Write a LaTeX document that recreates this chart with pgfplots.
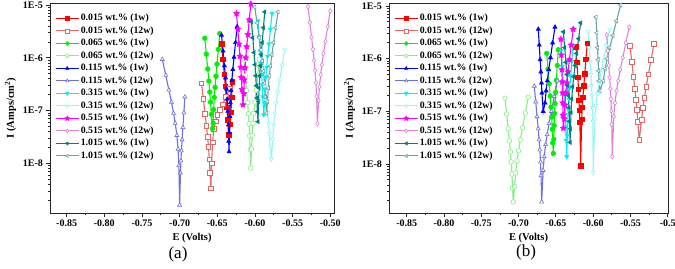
\documentclass[border=0pt]{standalone}
\usepackage{pgfplots}
\pgfplotsset{compat=1.18}
\usetikzlibrary{plotmarks}
\usepackage{fontspec}
\setmainfont{Liberation Serif}

\definecolor{cR1}{RGB}{255,0,0}
\definecolor{cR2}{RGB}{224,104,104}
\definecolor{cG1}{RGB}{0,240,0}
\definecolor{cG2}{RGB}{130,240,130}
\definecolor{cB1}{RGB}{0,0,255}
\definecolor{cB2}{RGB}{112,112,222}
\definecolor{cC1}{RGB}{0,240,240}
\definecolor{cC2}{RGB}{150,245,245}
\definecolor{cM1}{RGB}{255,0,255}
\definecolor{cM2}{RGB}{222,130,222}
\definecolor{cT1}{RGB}{0,128,128}
\definecolor{cT2}{RGB}{100,165,165}

\pgfdeclareplotmark{fstar}{%
 \pgfpathmoveto{\pgfpointpolar{90}{1.3\pgfplotmarksize}}%
 \pgfpathlineto{\pgfpointpolar{126}{0.65\pgfplotmarksize}}%
 \pgfpathlineto{\pgfpointpolar{162}{1.3\pgfplotmarksize}}%
 \pgfpathlineto{\pgfpointpolar{198}{0.65\pgfplotmarksize}}%
 \pgfpathlineto{\pgfpointpolar{234}{1.3\pgfplotmarksize}}%
 \pgfpathlineto{\pgfpointpolar{270}{0.65\pgfplotmarksize}}%
 \pgfpathlineto{\pgfpointpolar{306}{1.3\pgfplotmarksize}}%
 \pgfpathlineto{\pgfpointpolar{342}{0.65\pgfplotmarksize}}%
 \pgfpathlineto{\pgfpointpolar{18}{1.3\pgfplotmarksize}}%
 \pgfpathlineto{\pgfpointpolar{54}{0.65\pgfplotmarksize}}%
 \pgfpathclose\pgfusepathqfillstroke}

\pgfplotsset{
 tafel/.style={
   scale only axis, height=210pt,
   ytick={-8,-7,-6,-5}, yticklabels={1E-8,1E-7,1E-6,1E-5},
   minor ytick={-8.699,-8.523,-8.398,-8.301,-8.222,-8.155,-8.097,-8.046,
                -7.699,-7.523,-7.398,-7.301,-7.222,-7.155,-7.097,-7.046,
                -6.699,-6.523,-6.398,-6.301,-6.222,-6.155,-6.097,-6.046,
                -5.699,-5.523,-5.398,-5.301,-5.222,-5.155,-5.097,-5.046},
   xtick={-0.85,-0.80,-0.75,-0.70,-0.65,-0.60,-0.55,-0.50},
   minor xtick={-0.825,-0.775,-0.725,-0.675,-0.625,-0.575,-0.525},
   tick align=outside, tick pos=left,
   major tick length=3.5pt, minor tick length=2pt,
   every tick/.style={black!85, line width=0.8pt},
   axis line style={black!85, line width=0.9pt},
   tick label style={font=\bfseries\fontsize{10}{12}\selectfont},
   label style={font=\bfseries\fontsize{10.5}{12}\selectfont},
   xlabel={E (Volts)}, ylabel={I (Amps/cm\textsuperscript{2})},
   legend style={draw=none, fill=none, at={(0,1)}, anchor=north west,
     xshift=5pt, yshift=-9pt, inner sep=0pt, row sep=0pt,
     font=\bfseries\fontsize{9.8}{11}\selectfont,
     nodes={inner sep=1.5pt, text height=7pt, text depth=2.5pt}},
   legend cell align=left,
   legend image code/.code={\draw[mark repeat=2,mark phase=2,mark size=1.9pt] plot coordinates {(0pt,0pt)(11.5pt,0pt)(23pt,0pt)};},
   every axis plot/.append style={line width=1.1pt, mark size=2.3pt},
 },
 sR1/.style={color=cR1, mark=square*, mark options={solid, line width=0.6pt, fill=cR1}},
 sR2/.style={color=cR2, mark=square*, mark options={solid, line width=0.6pt, fill=white}},
 sG1/.style={color=cG1, mark=*, mark options={solid, line width=0.6pt, fill=cG1}},
 sG2/.style={color=cG2, mark=*, mark options={solid, line width=0.6pt, fill=white}},
 sB1/.style={color=cB1, mark=triangle*, mark options={solid, line width=0.6pt, fill=cB1}},
 sB2/.style={color=cB2, mark=triangle*, mark options={solid, line width=0.6pt, fill=white}},
 sC1/.style={color=cC1, mark=triangle*, mark options={solid, line width=0.6pt, fill=cC1, rotate=180}},
 sC2/.style={color=cC2, mark=triangle*, mark options={solid, line width=0.6pt, fill=white, rotate=180}},
 sM1/.style={color=cM1, mark=fstar, mark options={solid, line width=0.6pt, fill=cM1}},
 sM2/.style={color=cM2, mark=diamond*, mark options={solid, line width=0.6pt, fill=white}},
 sT1/.style={color=cT1, mark=triangle*, mark options={solid, line width=0.6pt, fill=cT1, rotate=90}},
 sT2/.style={color=cT2, mark=triangle*, mark options={solid, line width=0.6pt, fill=white, rotate=90}},
}

\begin{document}
\begin{tikzpicture}
\useasboundingbox (-50pt,-55pt) rectangle (625pt,213pt);

% ---------------- panel (a) ----------------
\begin{axis}[tafel, at={(0pt,0pt)}, width=284pt,
  xmin=-0.8721, xmax=-0.4951, ymin=-8.94, ymax=-4.962,
  xticklabels={-0.85,-0.80,-0.75,-0.70,-0.65,-0.60,-0.55,-0.50}]
\addplot[sR1] coordinates {(-0.6444,-5.73) (-0.6425,-6.03) (-0.6408,-6.31) (-0.6393,-6.54) (-0.6382,-6.75) (-0.6372,-6.94) (-0.6363,-7.17) (-0.6348,-7.46) (-0.6325,-7.26) (-0.6318,-7.03) (-0.6310,-6.75) (-0.6300,-6.45)};
\addlegendentry{0.015 wt.\% (1w)}
\addplot[sR2] coordinates {(-0.6710,-6.48) (-0.6685,-6.78) (-0.6663,-7.06) (-0.6644,-7.29) (-0.6629,-7.50) (-0.6617,-7.69) (-0.6606,-7.92) (-0.6597,-8.18) (-0.6586,-8.47) (-0.6575,-8.00) (-0.6563,-7.60) (-0.6546,-7.35) (-0.6523,-7.20) (-0.6498,-7.08) (-0.6468,-6.98) (-0.6430,-6.88) (-0.6384,-6.74) (-0.6334,-6.58)};
\addlegendentry{0.015 wt.\% (12w)}
\addplot[sG1] coordinates {(-0.6666,-5.63) (-0.6646,-5.93) (-0.6627,-6.21) (-0.6612,-6.44) (-0.6600,-6.65) (-0.6590,-6.84) (-0.6580,-7.07) (-0.6564,-7.34) (-0.6555,-7.24) (-0.6549,-6.98) (-0.6540,-6.75) (-0.6530,-6.56) (-0.6518,-6.35) (-0.6504,-6.12) (-0.6486,-5.84) (-0.6467,-5.54)};
\addlegendentry{0.065 wt.\% (1w)}
\addplot[sG2] coordinates {(-0.6145,-6.04) (-0.6127,-6.34) (-0.6111,-6.62) (-0.6098,-6.85) (-0.6087,-7.06) (-0.6078,-7.25) (-0.6070,-7.48) (-0.6064,-7.74) (-0.6056,-8.09) (-0.6046,-7.73) (-0.6037,-7.47) (-0.6027,-7.24) (-0.6015,-7.05) (-0.6001,-6.84) (-0.5984,-6.61) (-0.5963,-6.33) (-0.5940,-6.03)};
\addlegendentry{0.065 wt.\% (12w)}
\addplot[sB1] coordinates {(-0.6444,-5.57) (-0.6424,-5.87) (-0.6406,-6.15) (-0.6391,-6.38) (-0.6379,-6.59) (-0.6369,-6.78) (-0.6360,-7.01) (-0.6353,-7.27) (-0.6349,-7.58) (-0.6344,-7.78) (-0.6339,-7.42) (-0.6334,-7.11) (-0.6327,-6.85) (-0.6317,-6.62) (-0.6307,-6.43) (-0.6294,-6.22) (-0.6278,-5.99) (-0.6258,-5.71) (-0.6237,-5.41)};
\addlegendentry{0.115 wt.\% (1w)}
\addplot[sB2] coordinates {(-0.7230,-6.03) (-0.7184,-6.33) (-0.7143,-6.61) (-0.7108,-6.84) (-0.7081,-7.05) (-0.7058,-7.24) (-0.7037,-7.47) (-0.7021,-7.73) (-0.7010,-8.04) (-0.7000,-8.79) (-0.6989,-8.18) (-0.6983,-7.95) (-0.6976,-7.76) (-0.6967,-7.55) (-0.6957,-7.32) (-0.6944,-7.04) (-0.6930,-6.74)};
\addlegendentry{0.115 wt.\% (12w)}
\addplot[sC1] coordinates {(-0.5960,-5.30) (-0.5945,-5.60) (-0.5931,-5.88) (-0.5920,-6.11) (-0.5911,-6.32) (-0.5903,-6.51) (-0.5896,-6.74) (-0.5884,-7.08) (-0.5874,-6.86) (-0.5866,-6.60) (-0.5856,-6.37) (-0.5845,-6.18) (-0.5832,-5.97) (-0.5815,-5.74) (-0.5795,-5.46) (-0.5773,-5.16)};
\addlegendentry{0.315 wt.\% (1w)}
\addplot[sC2] coordinates {(-0.5890,-6.23) (-0.5868,-6.53) (-0.5849,-6.81) (-0.5832,-7.04) (-0.5819,-7.25) (-0.5808,-7.44) (-0.5798,-7.67) (-0.5781,-7.92) (-0.5765,-7.54) (-0.5753,-7.28) (-0.5737,-7.05) (-0.5719,-6.86) (-0.5698,-6.65) (-0.5672,-6.42) (-0.5640,-6.14) (-0.5605,-5.84)};
\addlegendentry{0.315 wt.\% (12w)}
\addplot[sM1] coordinates {(-0.6245,-5.16) (-0.6228,-5.46) (-0.6212,-5.74) (-0.6199,-5.97) (-0.6189,-6.18) (-0.6180,-6.37) (-0.6172,-6.60) (-0.6158,-6.89) (-0.6149,-6.68) (-0.6141,-6.42) (-0.6132,-6.19) (-0.6122,-6.00) (-0.6110,-5.79) (-0.6094,-5.56) (-0.6076,-5.28) (-0.6055,-4.98)};
\addlegendentry{0.515 wt.\% (1w)}
\addplot[sM2] coordinates {(-0.5296,-5.03) (-0.5271,-5.33) (-0.5249,-5.61) (-0.5230,-5.84) (-0.5215,-6.05) (-0.5202,-6.24) (-0.5191,-6.47) (-0.5182,-6.73) (-0.5171,-7.25) (-0.5156,-6.81) (-0.5144,-6.55) (-0.5128,-6.32) (-0.5111,-6.13) (-0.5091,-5.92) (-0.5065,-5.69) (-0.5034,-5.41) (-0.5000,-5.11)};
\addlegendentry{0.515 wt.\% (12w)}
\addplot[sT1] coordinates {(-0.6046,-5.32) (-0.6029,-5.62) (-0.6013,-5.90) (-0.6000,-6.13) (-0.5990,-6.34) (-0.5982,-6.53) (-0.5974,-6.76) (-0.5968,-7.02) (-0.5960,-7.21) (-0.5952,-6.83) (-0.5946,-6.57) (-0.5938,-6.34) (-0.5929,-6.15) (-0.5918,-5.94) (-0.5904,-5.71) (-0.5888,-5.43) (-0.5870,-5.13)};
\addlegendentry{1.015 wt.\% (1w)}
\addplot[sT2] coordinates {(-0.6003,-5.04) (-0.5972,-5.34) (-0.5944,-5.62) (-0.5921,-5.85) (-0.5902,-6.06) (-0.5887,-6.25) (-0.5873,-6.48) (-0.5862,-6.74) (-0.5848,-7.05) (-0.5834,-6.83) (-0.5823,-6.57) (-0.5810,-6.34) (-0.5794,-6.15) (-0.5776,-5.94) (-0.5753,-5.71) (-0.5725,-5.43) (-0.5694,-5.13)};
\addlegendentry{1.015 wt.\% (12w)}
\end{axis}

% ---------------- panel (b) ----------------
\begin{axis}[tafel, at={(339pt,0pt)}, width=279pt,
  xmin=-0.8737, xmax=-0.4997, ymin=-8.93, ymax=-4.943,
  xticklabels={-0.85,-0.80,-0.75,-0.70,-0.65,-0.60,-0.55,-0.5}]
\addplot[sR1] coordinates {(-0.6230,-5.77) (-0.6218,-6.07) (-0.6206,-6.35) (-0.6197,-6.58) (-0.6190,-6.79) (-0.6184,-6.98) (-0.6178,-7.21) (-0.6168,-8.03) (-0.6154,-7.15) (-0.6146,-6.92) (-0.6137,-6.73) (-0.6126,-6.52) (-0.6113,-6.29) (-0.6097,-6.01) (-0.6079,-5.71)};
\addlegendentry{0.015 wt.\% (1w)}
\addplot[sR2] coordinates {(-0.5507,-5.76) (-0.5482,-6.06) (-0.5460,-6.34) (-0.5441,-6.57) (-0.5426,-6.78) (-0.5413,-6.97) (-0.5402,-7.20) (-0.5382,-7.54) (-0.5351,-7.16) (-0.5333,-6.93) (-0.5313,-6.74) (-0.5289,-6.53) (-0.5260,-6.30) (-0.5224,-6.02) (-0.5185,-5.72)};
\addlegendentry{0.015 wt.\% (12w)}
\addplot[sG1] coordinates {(-0.6623,-5.90) (-0.6605,-6.20) (-0.6589,-6.48) (-0.6576,-6.71) (-0.6565,-6.92) (-0.6556,-7.11) (-0.6548,-7.34) (-0.6542,-7.60) (-0.6534,-7.80) (-0.6528,-7.53) (-0.6523,-7.27) (-0.6518,-7.04) (-0.6511,-6.85) (-0.6503,-6.64) (-0.6493,-6.41) (-0.6481,-6.13) (-0.6468,-5.83)};
\addlegendentry{0.065 wt.\% (1w)}
\addplot[sG2] coordinates {(-0.7182,-6.75) (-0.7160,-7.05) (-0.7140,-7.33) (-0.7123,-7.56) (-0.7110,-7.77) (-0.7099,-7.96) (-0.7089,-8.19) (-0.7081,-8.45) (-0.7071,-8.72) (-0.7053,-8.43) (-0.7039,-8.17) (-0.7021,-7.94) (-0.7001,-7.75) (-0.6977,-7.54) (-0.6946,-7.31) (-0.6910,-7.03) (-0.6870,-6.73)};
\addlegendentry{0.065 wt.\% (12w)}
\addplot[sB1] coordinates {(-0.6736,-5.44) (-0.6723,-5.74) (-0.6711,-6.02) (-0.6701,-6.25) (-0.6693,-6.46) (-0.6687,-6.65) (-0.6670,-7.00) (-0.6645,-6.84) (-0.6631,-6.61) (-0.6615,-6.42) (-0.6596,-6.21) (-0.6572,-5.98) (-0.6544,-5.70) (-0.6512,-5.40)};
\addlegendentry{0.115 wt.\% (1w)}
\addplot[sB2] coordinates {(-0.6790,-6.52) (-0.6770,-6.82) (-0.6752,-7.10) (-0.6737,-7.33) (-0.6725,-7.54) (-0.6715,-7.73) (-0.6706,-7.96) (-0.6699,-8.22) (-0.6690,-8.72) (-0.6671,-8.12) (-0.6656,-7.86) (-0.6638,-7.63) (-0.6617,-7.44) (-0.6591,-7.23) (-0.6560,-7.00) (-0.6522,-6.72) (-0.6480,-6.42)};
\addlegendentry{0.115 wt.\% (12w)}
\addplot[sC1] coordinates {(-0.6430,-5.85) (-0.6415,-6.15) (-0.6402,-6.43) (-0.6390,-6.66) (-0.6381,-6.87) (-0.6374,-7.06) (-0.6367,-7.29) (-0.6362,-7.55) (-0.6355,-7.86) (-0.6347,-7.45) (-0.6341,-7.19) (-0.6334,-6.96) (-0.6325,-6.77) (-0.6315,-6.56) (-0.6302,-6.33) (-0.6287,-6.05) (-0.6270,-5.75)};
\addlegendentry{0.315 wt.\% (1w)}
\addplot[sC2] coordinates {(-0.6066,-5.49) (-0.6053,-5.79) (-0.6041,-6.07) (-0.6031,-6.30) (-0.6023,-6.51) (-0.6016,-6.70) (-0.6010,-6.93) (-0.6005,-7.19) (-0.5999,-8.17) (-0.5979,-7.15) (-0.5964,-6.89) (-0.5944,-6.66) (-0.5922,-6.47) (-0.5896,-6.26) (-0.5863,-6.03) (-0.5824,-5.75) (-0.5780,-5.45)};
\addlegendentry{0.315 wt.\% (12w)}
\addplot[sM1] coordinates {(-0.6432,-5.63) (-0.6426,-5.93) (-0.6420,-6.21) (-0.6415,-6.44) (-0.6411,-6.65) (-0.6408,-6.84) (-0.6405,-7.07) (-0.6400,-7.32) (-0.6388,-7.14) (-0.6379,-6.88) (-0.6367,-6.65) (-0.6353,-6.46) (-0.6338,-6.25) (-0.6318,-6.02) (-0.6294,-5.74) (-0.6267,-5.44)};
\addlegendentry{0.515 wt.\% (1w)}
\addplot[sM2] coordinates {(-0.5819,-5.55) (-0.5804,-5.85) (-0.5791,-6.13) (-0.5779,-6.36) (-0.5770,-6.57) (-0.5763,-6.76) (-0.5756,-6.99) (-0.5751,-7.25) (-0.5744,-7.86) (-0.5724,-7.10) (-0.5708,-6.84) (-0.5687,-6.61) (-0.5664,-6.42) (-0.5637,-6.21) (-0.5603,-5.98) (-0.5562,-5.70) (-0.5516,-5.40)};
\addlegendentry{0.515 wt.\% (12w)}
\addplot[sT1] coordinates {(-0.6400,-5.49) (-0.6382,-5.79) (-0.6366,-6.07) (-0.6352,-6.30) (-0.6342,-6.51) (-0.6333,-6.70) (-0.6324,-6.93) (-0.6318,-7.19) (-0.6310,-7.59) (-0.6304,-7.33) (-0.6297,-7.02) (-0.6287,-6.76) (-0.6275,-6.53) (-0.6260,-6.34) (-0.6243,-6.13) (-0.6222,-5.90) (-0.6196,-5.62) (-0.6168,-5.32)};
\addlegendentry{1.015 wt.\% (1w)}
\addplot[sT2] coordinates {(-0.5963,-5.21) (-0.5952,-5.51) (-0.5943,-5.79) (-0.5934,-6.02) (-0.5928,-6.23) (-0.5922,-6.42) (-0.5909,-6.61) (-0.5865,-6.42) (-0.5840,-6.19) (-0.5812,-6.00) (-0.5778,-5.79) (-0.5737,-5.56) (-0.5687,-5.28) (-0.5631,-4.98)};
\addlegendentry{1.015 wt.\% (12w)}
\end{axis}

\node[font=\fontsize{17}{20}\selectfont] at (128pt,-41pt) {(a)};
\node[font=\fontsize{17}{20}\selectfont] at (476pt,-39pt) {(b)};
\end{tikzpicture}
\end{document}
